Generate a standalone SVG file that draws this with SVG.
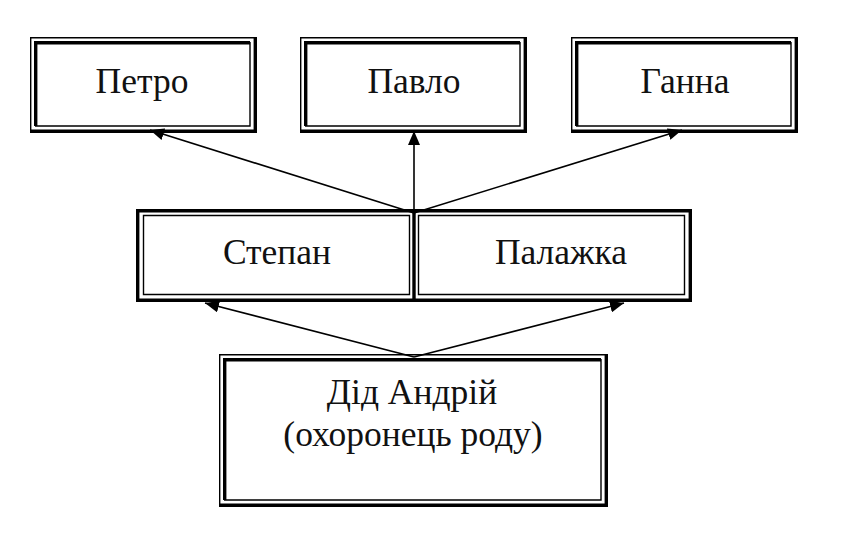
<svg xmlns="http://www.w3.org/2000/svg" width="864" height="556" viewBox="0 0 864 556">
<defs>
<marker id="ah" markerUnits="userSpaceOnUse" markerWidth="16" markerHeight="12" refX="14" refY="6" orient="auto">
<path d="M0,0 L14,6 L0,12 Z" fill="#000"/>
</marker>
<style>
.thin{fill:none;stroke:#000;stroke-width:1.4}
.thick{fill:none;stroke:#000;stroke-width:3.4}
.cn{stroke:#000;stroke-width:1.6;fill:none;marker-end:url(#ah)}
</style>
</defs>
<rect width="864" height="556" fill="#fff"/>

<g id="connectors">
<line class="cn" x1="414" y1="213" x2="150" y2="130"/>
<line class="cn" x1="414" y1="213" x2="414" y2="131"/>
<line class="cn" x1="414" y1="213" x2="682" y2="130"/>
<line class="cn" x1="414" y1="357" x2="205" y2="303"/>
<line class="cn" x1="414" y1="357" x2="624" y2="303"/>
</g>

<g font-family="Liberation Serif" font-size="35.5" fill="#111" text-anchor="middle">
<g id="petro">
<path class="thin" d="M30.7,133 V37.7 H257"/>
<path class="thick" d="M255.3,37 V131.3 H30"/>
<path class="thick" d="M35.7,126 V42.7 H250"/>
<path class="thin" d="M250,42 V126 H35"/>
<text x="142" y="93">Петро</text>
</g>

<g id="pavlo">
<path class="thin" d="M300.7,133 V37.7 H527"/>
<path class="thick" d="M525.3,37 V131.3 H300"/>
<path class="thick" d="M305.7,126 V42.7 H520"/>
<path class="thin" d="M520,42 V126 H305"/>
<text x="414" y="93">Павло</text>
</g>

<g id="hanna">
<path class="thin" d="M571.7,133 V37.7 H798"/>
<path class="thick" d="M796.3,37 V131.3 H571"/>
<path class="thick" d="M576.7,126 V42.7 H791"/>
<path class="thin" d="M791,42 V126 H576"/>
<text x="685" y="93">Ганна</text>
</g>

<g id="stepan">
<path class="thick" d="M414,210.7 H137.7 V300.3 H414"/>
<path class="thin" d="M409.5,215.5 H143.5 V294.5 H409.5 Z"/>
<line class="thick" x1="414" y1="209" x2="414" y2="302"/>
<text x="277" y="264">Степан</text>
</g>

<g id="palazhka">
<path class="thick" d="M414,210.7 H690.3 V300.3 H414"/>
<path class="thin" d="M418.5,215.5 H684.5 V294.5 H418.5 Z"/>
<text x="561" y="264">Палажка</text>
</g>

<g id="did-andriy">
<path class="thin" d="M219.7,507 V354.7 H608"/>
<path class="thick" d="M606.3,354 V505.3 H219"/>
<path class="thick" d="M224.7,500 V359.7 H601"/>
<path class="thin" d="M601,359 V500 H224"/>
<text x="412" y="404">Дід Андрій</text>
<text x="413" y="446">(охоронець роду)</text>
</g>
</g>
</svg>
